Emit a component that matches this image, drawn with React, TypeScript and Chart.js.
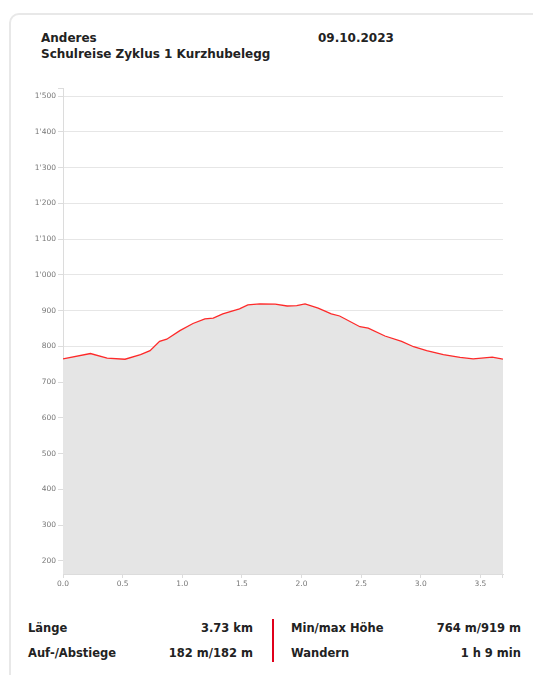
import React, { useEffect, useRef } from "react";
import { Chart, registerables } from "chart.js";

Chart.register(...registerables);

const distanceKm = [
  0.0, 0.23, 0.37, 0.52, 0.65, 0.73, 0.81, 0.87, 0.98, 1.09, 1.19, 1.26, 1.34, 1.48, 1.55, 1.65, 1.78,
  1.88, 1.96, 2.03, 2.14, 2.25, 2.32, 2.49, 2.56, 2.7, 2.84, 2.94, 3.05, 3.19, 3.33, 3.44, 3.6, 3.69,
];
const elevationM = [
  765, 780, 767, 764, 777, 788, 814, 820, 844, 864, 877, 879, 891, 905, 916, 919, 918,
  913, 914, 919, 907, 891, 885, 855, 851, 829, 814, 799, 788, 777, 769, 765, 770, 764,
];

const titleLine1 = "Anderes";
const titleLine2 = "Schulreise Zyklus 1 Kurzhubelegg";
const dateLabel = "09.10.2023";

const statLabelsLeft = ["Länge", "Auf-/Abstiege"];
const statValuesLeft = ["3.73 km", "182 m/182 m"];
const statLabelsRight = ["Min/max Höhe", "Wandern"];
const statValuesRight = ["764 m/919 m", "1 h 9 min"];

const yMin = 163;
const yMax = 1523;
const yStep = 100;
const xMin = 0;
const xMax = 3.69;
const xStep = 0.5;

function formatThousands(v: number): string {
  const n = Math.round(v);
  if (n >= 1000) {
    return `${Math.floor(n / 1000)}'${String(n % 1000).padStart(3, "0")}`;
  }
  return String(n);
}

const axisEndTicks = {
  id: "axisEndTicks",
  afterDraw(chart: any) {
    const { ctx, chartArea } = chart;
    ctx.save();
    ctx.strokeStyle = "#dcdcdc";
    ctx.lineWidth = 1;
    ctx.beginPath();
    ctx.moveTo(chartArea.left - 5, chartArea.top + 0.5);
    ctx.lineTo(chartArea.left, chartArea.top + 0.5);
    ctx.moveTo(chartArea.right - 0.5, chartArea.bottom);
    ctx.lineTo(chartArea.right - 0.5, chartArea.bottom + 4);
    ctx.stroke();
    ctx.restore();
  },
};

export default function App() {
  const canvasRef = useRef<HTMLCanvasElement | null>(null);

  useEffect(() => {
    if (!canvasRef.current) return;
    const points = distanceKm.map((x, i) => ({ x, y: elevationM[i] }));
    const labelFont = { family: "'DejaVu Sans', sans-serif", size: 7.5 };
    const chart = new Chart(canvasRef.current, {
      type: "line",
      data: {
        datasets: [
          {
            data: points,
            borderColor: "rgba(255,20,20,0.9)",
            borderWidth: 1.3,
            backgroundColor: "#e5e5e5",
            fill: "start",
            pointRadius: 0,
            tension: 0,
          },
        ],
      },
      plugins: [axisEndTicks],
      options: {
        animation: false,
        responsive: true,
        maintainAspectRatio: false,
        layout: { padding: { left: 0, right: 17, top: 8, bottom: 0 } },
        plugins: { legend: { display: false }, tooltip: { enabled: false } },
        scales: {
          x: {
            type: "linear",
            min: xMin,
            max: xMax,
            afterFit: (scale: any) => {
              scale.height = 26;
            },
            border: { display: true, color: "#dcdcdc", width: 1 },
            grid: {
              drawOnChartArea: false,
              drawTicks: true,
              tickLength: 4,
              tickColor: "#dcdcdc",
            },
            ticks: {
              stepSize: xStep,
              includeBounds: false,
              autoSkip: false,
              maxRotation: 0,
              padding: 2,
              color: "#777",
              font: labelFont,
              callback: (v: any) => Number(v).toFixed(1),
            },
          },
          y: {
            type: "linear",
            min: yMin,
            max: yMax,
            afterFit: (scale: any) => {
              scale.width = 43;
            },
            border: { display: true, color: "#dcdcdc", width: 1 },
            grid: {
              drawTicks: true,
              tickLength: 5,
              color: "#e6e6e6",
              tickColor: "#dcdcdc",
            },
            ticks: {
              stepSize: yStep,
              includeBounds: false,
              autoSkip: false,
              padding: 2,
              color: "#777",
              font: labelFont,
              callback: (v: any) => formatThousands(Number(v)),
            },
          },
        },
      },
    } as any);
    return () => chart.destroy();
  }, []);

  const textFont = "'DejaVu Sans', Verdana, sans-serif";
  const statStyle: React.CSSProperties = {
    position: "absolute",
    fontSize: 11.5,
    fontWeight: "bold",
    color: "#222",
    whiteSpace: "nowrap",
    lineHeight: "14px",
  };

  return (
    <div
      style={{
        position: "absolute",
        left: 0,
        top: 0,
        width: 533,
        height: 675,
        overflow: "hidden",
        background: "#fff",
        fontFamily: textFont,
      }}
    >
      <div
        style={{
          position: "absolute",
          left: 9,
          top: 13,
          width: 560,
          height: 720,
          border: "2px solid #e8e8e8",
          borderRadius: 10,
          boxSizing: "border-box",
        }}
      />
      <div style={{ ...statStyle, left: 41, top: 31, fontSize: 12 }}>{titleLine1}</div>
      <div style={{ ...statStyle, left: 41, top: 47, fontSize: 12 }}>{titleLine2}</div>
      <div style={{ ...statStyle, left: 318, top: 31, fontSize: 12 }}>{dateLabel}</div>

      <div style={{ position: "absolute", left: 20, top: 80, width: 500, height: 520 }}>
        <canvas ref={canvasRef} />
      </div>

      {statLabelsLeft.map((t, i) => (
        <div key={"ll" + i} style={{ ...statStyle, left: 28, top: 621 + i * 25 }}>
          {t}
        </div>
      ))}
      {statValuesLeft.map((t, i) => (
        <div key={"lv" + i} style={{ ...statStyle, right: 533 - 253, top: 621 + i * 25, textAlign: "right" }}>
          {t}
        </div>
      ))}
      <div
        style={{
          position: "absolute",
          left: 272,
          top: 619,
          width: 2,
          height: 43,
          background: "#e0001b",
        }}
      />
      {statLabelsRight.map((t, i) => (
        <div key={"rl" + i} style={{ ...statStyle, left: 291, top: 621 + i * 25 }}>
          {t}
        </div>
      ))}
      {statValuesRight.map((t, i) => (
        <div key={"rv" + i} style={{ ...statStyle, right: 533 - 521, top: 621 + i * 25, textAlign: "right" }}>
          {t}
        </div>
      ))}
    </div>
  );
}
